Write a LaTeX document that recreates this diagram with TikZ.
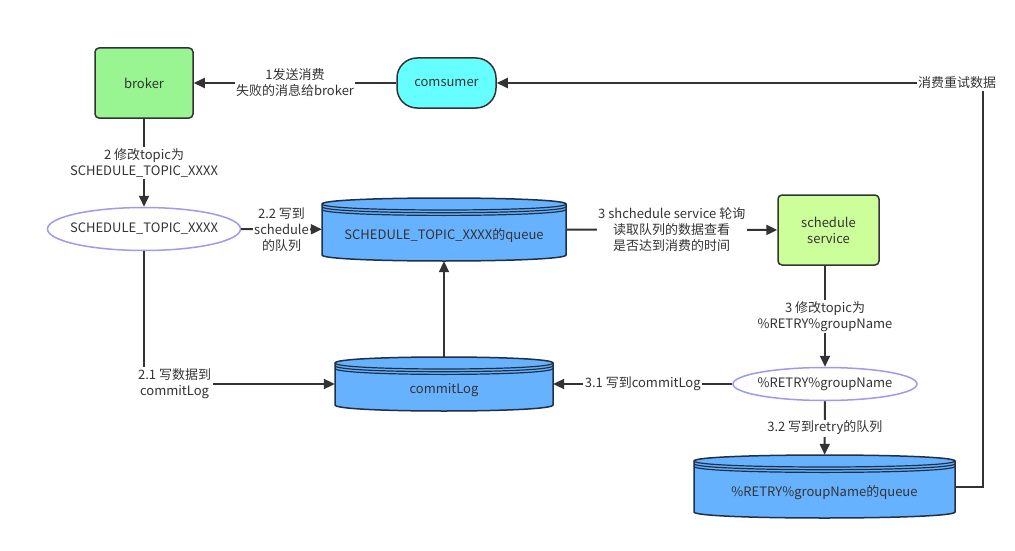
\documentclass[tikz,border=0pt]{standalone}
\usepackage{fontspec}
\setmainfont{Noto Sans CJK SC}
\usetikzlibrary{arrows.meta,positioning,shapes.geometric}
\definecolor{linecol}{HTML}{333333}
\definecolor{brokercol}{HTML}{99F591}
\definecolor{consumecol}{HTML}{66FFFF}
\definecolor{servicecol}{HTML}{CCFF99}
\definecolor{queuecol}{HTML}{66B2FF}
\definecolor{queueline}{HTML}{1F2F45}
\definecolor{topiccol}{HTML}{9E9AF0}
\tikzset{
  box/.style={draw=linecol, line width=1.5pt, rounded corners=4pt, minimum width=98pt, minimum height=70pt, inner sep=0},
  topic/.style={ellipse, draw=topiccol, line width=1.5pt, fill=white, inner sep=-20pt},
  flow/.style={draw=linecol, line width=2pt, -{Triangle[length=11pt,width=10pt]}},
  lbl/.style={fill=white, inner sep=1.5pt, align=center},
  dbbody/.style={fill=queuecol, draw=queueline, line width=1.5pt},
  dbline/.style={draw=queueline, line width=1.2pt}
}
% queue drum: name, left, right, top, bottom, text
\newcommand{\dbstore}[6]{%
  \path[dbbody] (#2,#4+6) -- (#2,#5-6) .. controls (#2,#5+2) and (#3,#5+2) .. (#3,#5-6)
    -- (#3,#4+6) .. controls (#3,#4-2) and (#2,#4-2) .. (#2,#4+6) -- cycle;
  \foreach \off in {0,2.7,5.4}
    \draw[dbline] (#2,#4+6+\off) .. controls (#2,#4+14+\off) and (#3,#4+14+\off) .. (#3,#4+6+\off);
  \node[inner sep=0, minimum width={(#3-#2)*1pt}, minimum height={(#5-#4)*1pt}] (#1) at ({(#2+#3)/2},{(#4+#5)/2}) {};
  \node (#1-t) at ({(#2+#3)/2},{(#4+#5)/2+6}) {#6};
}

\begin{document}
\begin{tikzpicture}[x=1pt,y=-1pt, font=\fontsize{13}{16}\selectfont, text=linecol]
  \useasboundingbox (0,0) rectangle (1015,551);

  \node[box, fill=brokercol] (broker) at (144,83) {broker};
  \node[box, fill=consumecol, rounded corners=20pt, minimum width=99pt, minimum height=50pt] (consumer) at (446.5,83) {comsumer};
  \node[box, fill=servicecol, minimum width=101pt, align=center] (service) at (828.5,230) {schedule\\service};
  \node[topic, minimum width=193pt, minimum height=43pt] (schedtopic) at (144,229) {SCHEDULE\_TOPIC\_XXXX};
  \node[topic, minimum width=184pt, minimum height=33pt] (retrytopic) at (825,384) {\%RETRY\%groupName};

  \dbstore{schedq}{322}{566}{198}{261}{SCHEDULE\_TOPIC\_XXXX的queue}
  \dbstore{commitlog}{335}{553}{357}{411}{commitLog}
  \dbstore{retryq}{694}{955}{455}{518}{\%RETRY\%groupName的queue}
  \coordinate (loop) at (983,83);

  \draw[flow] (consumer) -- node[lbl] {1发送消费\\失败的消息给broker} (broker);
  \draw[flow] (broker) -- node[lbl] {2 修改topic为\\SCHEDULE\_TOPIC\_XXXX} (schedtopic);
  \draw[flow] (schedtopic) -- node[lbl] {2.2 写到\\schedule\\的队列} (schedq);
  \draw[flow] (schedtopic) |- node[lbl, pos=0.58] {2.1 写数据到\\commitLog} (commitlog);
  \draw[flow] (commitlog) -- (schedq);
  \draw[flow] (schedq) -- node[lbl] {3 shchedule service 轮询\\读取队列的数据查看\\是否达到消费的时间} (service);
  \draw[flow] (service.south -| retrytopic) -- node[lbl] {3 修改topic为\\\%RETRY\%groupName} (retrytopic);
  \draw[flow] (retrytopic) -- node[lbl] {3.1 写到commitLog} (commitlog);
  \draw[flow] (retrytopic) -- node[lbl] {3.2 写到retry的队列} (retryq);
  \draw[flow] (retryq) -| (loop) -- node[lbl, pos=0.053] {消费重试数据} (consumer);
\end{tikzpicture}
\end{document}
